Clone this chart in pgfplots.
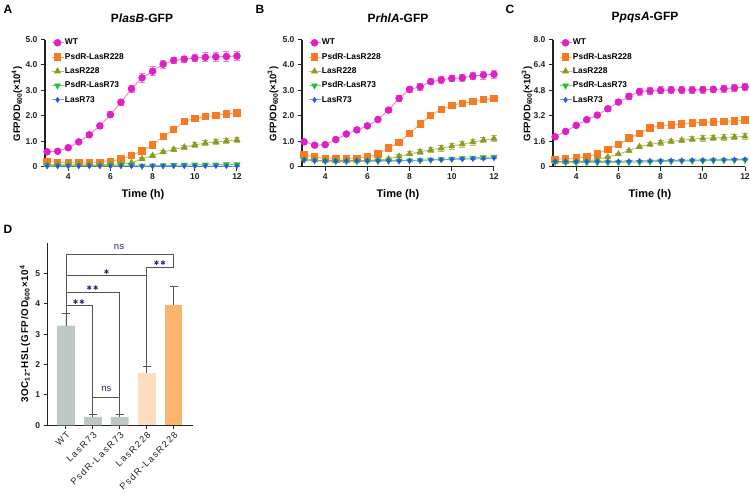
\documentclass[border=0pt]{standalone}
\usepackage{pgfplots}
\pgfplotsset{compat=1.18}
\usepackage{pgfplotstable}
\usepackage{fontspec}
\setmainfont{Liberation Sans}
\newfontfamily\djv{DejaVu Sans}
\newfontfamily\spaced[LetterSpace=15]{Liberation Sans}
\newfontfamily\spacedb[LetterSpace=8]{Liberation Sans}
\definecolor{cwt}{HTML}{E01FC4}
\definecolor{cwtl}{HTML}{F27ADC}
\definecolor{cor}{HTML}{FA7A22}
\definecolor{corl}{HTML}{FBA66A}
\definecolor{col}{HTML}{8A9B22}
\definecolor{coll}{HTML}{B4BE6A}
\definecolor{cgr}{HTML}{2DBE2D}
\definecolor{cgrl}{HTML}{7DD67D}
\definecolor{cbl}{HTML}{2A55F0}
\definecolor{cbll}{HTML}{7D98F4}
\definecolor{cbar}{HTML}{BEC9C6}
\definecolor{cpeach}{HTML}{FDDDBE}
\definecolor{corange}{HTML}{FDB46E}
\definecolor{cnavy}{HTML}{2A2A66}
\definecolor{caxis}{HTML}{222222}
\definecolor{cbr}{HTML}{555555}

\pgfplotstableread{
t wt wte o oe ol ole g ge b be
3 0.58 0.05 0.20 0.06 0.08 0.02 0.04 0.01 0.02 0.01
3.5 0.60 0.05 0.17 0.06 0.08 0.02 0.04 0.01 0.02 0.01
4 0.74 0.06 0.15 0.05 0.07 0.02 0.04 0.01 0.02 0.01
4.5 0.97 0.08 0.14 0.05 0.07 0.02 0.04 0.01 0.02 0.01
5 1.25 0.09 0.14 0.05 0.07 0.02 0.04 0.01 0.02 0.01
5.5 1.60 0.10 0.16 0.05 0.07 0.02 0.04 0.01 0.02 0.01
6 2.04 0.11 0.21 0.06 0.08 0.02 0.05 0.01 0.02 0.01
6.5 2.53 0.13 0.29 0.07 0.10 0.03 0.05 0.01 0.02 0.01
7 3.06 0.15 0.44 0.08 0.15 0.03 0.05 0.01 0.02 0.01
7.5 3.49 0.17 0.62 0.09 0.30 0.05 0.02 0.01 0.02 0.01
8 3.75 0.18 0.85 0.09 0.43 0.06 0.03 0.01 0.02 0.01
8.5 4.03 0.16 1.18 0.10 0.57 0.07 0.04 0.01 0.02 0.01
9 4.18 0.13 1.45 0.10 0.67 0.08 0.05 0.01 0.02 0.01
9.5 4.23 0.12 1.77 0.10 0.76 0.08 0.06 0.01 0.02 0.01
10 4.27 0.15 1.90 0.10 0.85 0.09 0.07 0.01 0.02 0.01
10.5 4.30 0.18 1.96 0.11 0.92 0.10 0.07 0.01 0.02 0.01
11 4.32 0.18 2.02 0.11 0.97 0.10 0.07 0.01 0.02 0.01
11.5 4.33 0.20 2.07 0.12 1.01 0.11 0.08 0.01 0.02 0.01
12 4.35 0.18 2.11 0.12 1.05 0.11 0.08 0.01 0.02 0.01
}\tA
\pgfplotstableread{
t wt wte o oe ol ole g ge b be
3 0.97 0.06 0.46 0.06 0.28 0.03 0.27 0.02 0.26 0.02
3.5 0.84 0.06 0.37 0.05 0.25 0.03 0.23 0.02 0.24 0.02
4 0.86 0.07 0.32 0.05 0.22 0.03 0.21 0.02 0.23 0.02
4.5 1.06 0.07 0.29 0.05 0.22 0.03 0.20 0.02 0.23 0.02
5 1.28 0.07 0.30 0.05 0.22 0.03 0.20 0.02 0.23 0.02
5.5 1.44 0.08 0.32 0.05 0.23 0.03 0.20 0.02 0.23 0.02
6 1.60 0.08 0.38 0.05 0.24 0.03 0.21 0.02 0.23 0.02
6.5 1.85 0.08 0.49 0.06 0.26 0.04 0.21 0.02 0.23 0.02
7 2.22 0.09 0.73 0.07 0.30 0.04 0.22 0.02 0.23 0.02
7.5 2.68 0.11 0.95 0.08 0.40 0.06 0.22 0.02 0.23 0.02
8 3.04 0.12 1.30 0.09 0.50 0.08 0.23 0.02 0.24 0.02
8.5 3.14 0.13 1.67 0.10 0.58 0.09 0.24 0.02 0.25 0.02
9 3.34 0.12 2.02 0.12 0.65 0.10 0.26 0.02 0.26 0.02
9.5 3.41 0.13 2.24 0.12 0.72 0.11 0.28 0.02 0.27 0.02
10 3.47 0.13 2.41 0.11 0.80 0.12 0.30 0.03 0.28 0.02
10.5 3.49 0.14 2.49 0.11 0.88 0.12 0.32 0.03 0.29 0.02
11 3.56 0.14 2.55 0.11 0.96 0.11 0.34 0.03 0.30 0.02
11.5 3.60 0.16 2.63 0.11 1.04 0.11 0.36 0.03 0.31 0.02
12 3.63 0.16 2.67 0.11 1.10 0.11 0.38 0.03 0.33 0.02
}\tB
\pgfplotstableread{
t wt wte o oe ol ole g ge b be
3 1.87 0.06 0.46 0.05 0.30 0.03 0.28 0.02 0.32 0.02
3.5 2.21 0.07 0.48 0.05 0.30 0.03 0.26 0.02 0.32 0.02
4 2.59 0.08 0.53 0.06 0.32 0.03 0.25 0.02 0.32 0.02
4.5 2.95 0.10 0.61 0.07 0.35 0.04 0.25 0.02 0.32 0.02
5 3.24 0.13 0.80 0.08 0.45 0.05 0.25 0.02 0.32 0.02
5.5 3.64 0.15 1.09 0.09 0.60 0.06 0.25 0.02 0.32 0.02
6 4.06 0.17 1.39 0.10 0.78 0.07 0.26 0.02 0.33 0.02
6.5 4.42 0.19 1.79 0.11 1.00 0.09 0.27 0.02 0.34 0.02
7 4.72 0.22 2.10 0.12 1.25 0.10 0.28 0.02 0.35 0.02
7.5 4.76 0.22 2.44 0.13 1.40 0.12 0.30 0.02 0.36 0.02
8 4.80 0.22 2.57 0.14 1.50 0.14 0.32 0.02 0.37 0.02
8.5 4.82 0.21 2.63 0.14 1.58 0.14 0.33 0.02 0.38 0.02
9 4.82 0.21 2.67 0.15 1.65 0.15 0.35 0.02 0.39 0.02
9.5 4.82 0.21 2.74 0.15 1.72 0.16 0.36 0.02 0.40 0.02
10 4.84 0.21 2.78 0.16 1.77 0.16 0.37 0.02 0.41 0.02
10.5 4.86 0.21 2.80 0.16 1.80 0.17 0.38 0.02 0.42 0.02
11 4.90 0.22 2.84 0.17 1.83 0.17 0.39 0.02 0.43 0.02
11.5 4.95 0.22 2.88 0.17 1.86 0.17 0.40 0.02 0.44 0.02
12 5.01 0.22 2.93 0.18 1.90 0.18 0.42 0.02 0.45 0.02
}\tC

\pgfplotsset{
 linepanel/.style={
  anchor=south west, scale only axis, width=192pt, height=127pt,
  xmin=2.9, xmax=12, ymin=0,
  axis x line*=bottom, axis y line*=left,
  axis line style={-, caxis, line width=1.2pt},
  tick style={caxis, line width=1pt}, major tick length=4pt,
  tick align=outside,
  xtick={4,6,8,10,12},
  ticklabel style={font=\bfseries\fontsize{8.5}{9}\selectfont, text=caxis},
  /pgf/number format/assume math mode=true,
  clip=false,
  legend cell align=left,
  legend style={draw=none, fill=none, at={(0.015,1.028)}, anchor=north west,
    font=\bfseries\fontsize{8.4}{9}\selectfont, row sep=4.8pt, nodes={inner sep=1pt}},
  legend image code/.code={\draw[mark repeat=2,mark phase=2,##1] plot coordinates {(0pt,0pt) (6pt,0pt) (12pt,0pt)};},
 },
 ebar/.style={/pgfplots/error bars/y dir=both, /pgfplots/error bars/y explicit,
   /pgfplots/error bars/error bar style={#1, line width=0.8pt, solid},
   /pgfplots/error bars/error mark options={#1, line width=0.8pt, mark size=3pt, rotate=90}},
 swt/.style={color=cwtl, line width=0.9pt, mark=*, mark size=3.3pt, mark options={fill=cwt, draw=cwt}, ebar=cwtl},
 sor/.style={color=corl, line width=0.9pt, mark=square*, mark size=3.2pt, mark options={fill=cor, draw=cor}, ebar=corl},
 sol/.style={color=coll, line width=0.9pt, mark=triangle*, mark size=3.2pt, mark options={fill=col, draw=col}, ebar=coll},
 sgr/.style={color=cgrl, line width=0.9pt, mark=triangle*, mark size=3.2pt, mark options={fill=cgr, draw=cgr, rotate=180}, ebar=cgrl},
 sbl/.style={color=cbll, line width=0.9pt, mark=diamond*, mark size=2.2pt, mark options={fill=cbl, draw=cbl}, ebar=cbll},
}

\begin{document}
\begin{tikzpicture}
\useasboundingbox (0pt,0pt) rectangle (750pt,-496pt);

% ---------- A ----------
\begin{axis}[linepanel, at={(45pt,-166.5pt)}, ymax=5, ytick={0,1,2,3,4,5}, yticklabels={0,1.0,2.0,3.0,4.0,5.0}]
\addplot[swt] table[x=t, y=wt, y error=wte] {\tA};
\addplot[sor] table[x=t, y=o, y error=oe] {\tA};
\addplot[sol] table[x=t, y=ol, y error=ole] {\tA};
\addplot[sgr] table[x=t, y=g, y error=ge] {\tA};
\addplot[sbl] table[x=t, y=b, y error=be] {\tA};
\legend{WT,PsdR-LasR228,LasR228,PsdR-LasR73,LasR73}
\end{axis}

% ---------- B ----------
\begin{axis}[linepanel, at={(302pt,-166.5pt)}, ymax=5, ytick={0,1,2,3,4,5}, yticklabels={0,1.0,2.0,3.0,4.0,5.0}]
\addplot[swt] table[x=t, y=wt, y error=wte] {\tB};
\addplot[sor] table[x=t, y=o, y error=oe] {\tB};
\addplot[sol] table[x=t, y=ol, y error=ole] {\tB};
\addplot[sgr] table[x=t, y=g, y error=ge] {\tB};
\addplot[sbl] table[x=t, y=b, y error=be] {\tB};
\legend{WT,PsdR-LasR228,LasR228,PsdR-LasR73,LasR73}
\end{axis}

% ---------- C ----------
\begin{axis}[linepanel, at={(553pt,-166.5pt)}, width=192pt, ymax=8, ytick={0,1.6,3.2,4.8,6.4,8}, yticklabels={0,1.6,3.2,4.8,6.4,8.0}]
\addplot[swt] table[x=t, y=wt, y error=wte] {\tC};
\addplot[sor] table[x=t, y=o, y error=oe] {\tC};
\addplot[sol] table[x=t, y=ol, y error=ole] {\tC};
\addplot[sgr] table[x=t, y=g, y error=ge] {\tC};
\addplot[sbl] table[x=t, y=b, y error=be] {\tC};
\legend{WT,PsdR-LasR228,LasR228,PsdR-LasR73,LasR73}
\end{axis}

% ---------- D ----------
\begin{axis}[at={(47.7pt,-425.3pt)}, anchor=south west, scale only axis,
  width=145.3pt, height=182.4pt,
  xmin=-0.68, xmax=4.72, ymin=0, ymax=6,
  ytick={0,1,2,3,4,5},
  xtick={0,1,2,3,4},
  xticklabels={WT,LasR73,PsdR-LasR73,LasR228,PsdR-LasR228},
  axis x line*=bottom, axis y line*=left,
  axis line style={-, caxis, line width=1.2pt},
  tick style={caxis, line width=1pt}, major tick length=4pt,
  tick align=outside,
  yticklabel style={font=\bfseries\fontsize{8.5}{9}\selectfont, text=caxis},
  xticklabel style={rotate=45, anchor=north east, font=\spaced\fontsize{9.2}{9.2}\selectfont, text=caxis, inner sep=1pt},
  /pgf/number format/assume math mode=true,
  clip=false,
  ybar, bar width=17.7pt,
  ]
\addplot[fill=cbar, draw=none, bar shift=0pt,
  error bars/.cd, y dir=plus, y explicit,
  error bar style={cbr, line width=0.9pt}, error mark options={cbr, line width=0.9pt, mark size=4pt, rotate=90}]
  coordinates {(0,3.28) +- (0,0.41) (1,0.28) +- (0,0.07) (2,0.27) +- (0,0.08)};
\addplot[fill=cpeach, draw=none, bar shift=0pt,
  error bars/.cd, y dir=plus, y explicit,
  error bar style={cbr, line width=0.9pt}, error mark options={cbr, line width=0.9pt, mark size=4pt, rotate=90}]
  coordinates {(3,1.72) +- (0,0.21)};
\addplot[fill=corange, draw=none, bar shift=0pt,
  error bars/.cd, y dir=plus, y explicit,
  error bar style={cbr, line width=0.9pt}, error mark options={cbr, line width=0.9pt, mark size=4pt, rotate=90}]
  coordinates {(4,3.97) +- (0,0.61)};
% significance brackets
\draw[cbr, line width=0.9pt] (axis cs:0,3.69) -- (axis cs:0,5.63) -- (axis cs:4,5.63) -- (axis cs:4,5.18);
\draw[cbr, line width=0.9pt] (axis cs:3,1.93) -- (axis cs:3,5.18) -- (axis cs:4,5.18);
\draw[cbr, line width=0.9pt] (axis cs:0,4.92) -- (axis cs:3,4.92);
\draw[cbr, line width=0.9pt] (axis cs:0,4.38) -- (axis cs:2,4.38) -- (axis cs:2,0.35);
\draw[cbr, line width=0.9pt] (axis cs:0,3.94) -- (axis cs:1,3.94) -- (axis cs:1,0.35);
\draw[cbr, line width=0.9pt] (axis cs:1,0.92) -- (axis cs:2,0.92);
\node[text=cnavy, font=\fontsize{9.5}{10}\selectfont] at (axis cs:1.97,5.86) {ns};
\node[text=cnavy, font=\fontsize{9.5}{10}\selectfont] at (axis cs:1.5,1.2) {ns};
\node[text=cnavy, font=\djv\fontsize{6.5}{7}\selectfont] at (axis cs:3.49,5.32) {✱\,✱};
\node[text=cnavy, font=\djv\fontsize{6.5}{7}\selectfont] at (axis cs:1.51,5.04) {✱};
\node[text=cnavy, font=\djv\fontsize{6.5}{7}\selectfont] at (axis cs:0.99,4.50) {✱\,✱};
\node[text=cnavy, font=\djv\fontsize{6.5}{7}\selectfont] at (axis cs:0.48,4.06) {✱\,✱};
\end{axis}

% ---------- texts ----------
\node[font=\bfseries\fontsize{12}{12}\selectfont] at (8pt,-9pt) {A};
\node[font=\bfseries\fontsize{12}{12}\selectfont] at (260pt,-9pt) {B};
\node[font=\bfseries\fontsize{12}{12}\selectfont] at (510pt,-9pt) {C};
\node[font=\bfseries\fontsize{12}{12}\selectfont] at (8pt,-229pt) {D};

\node[font=\bfseries\fontsize{12}{12}\selectfont] at (142pt,-18pt) {P\textit{lasB}-GFP};
\node[font=\bfseries\fontsize{12}{12}\selectfont] at (398pt,-18pt) {P\textit{rhlA}-GFP};
\node[font=\bfseries\fontsize{12}{12}\selectfont] at (645pt,-18pt) {P\textit{pqsA}-GFP};

\node[font=\bfseries\fontsize{11}{11}\selectfont] at (143pt,-195pt) {Time (h)};
\node[font=\bfseries\fontsize{11}{11}\selectfont] at (398pt,-195pt) {Time (h)};
\node[font=\bfseries\fontsize{11}{11}\selectfont] at (650pt,-195pt) {Time (h)};

\node[rotate=90, font=\bfseries\fontsize{9.5}{10}\selectfont] at (17pt,-104pt) {GFP/OD\textsubscript{600}(×10\textsuperscript{4})};
\node[rotate=90, font=\bfseries\fontsize{9.5}{10}\selectfont] at (273pt,-104pt) {GFP/OD\textsubscript{600}(×10\textsuperscript{3})};
\node[rotate=90, font=\bfseries\fontsize{9.5}{10}\selectfont] at (527pt,-104pt) {GFP/OD\textsubscript{600}(×10\textsuperscript{3})};
\node[rotate=90, font=\spacedb\bfseries\fontsize{9.8}{10}\selectfont] at (25pt,-334pt) {3OC\textsubscript{12}-HSL(GFP/OD\textsubscript{600}×10\textsuperscript{4}};
\end{tikzpicture}
\end{document}
